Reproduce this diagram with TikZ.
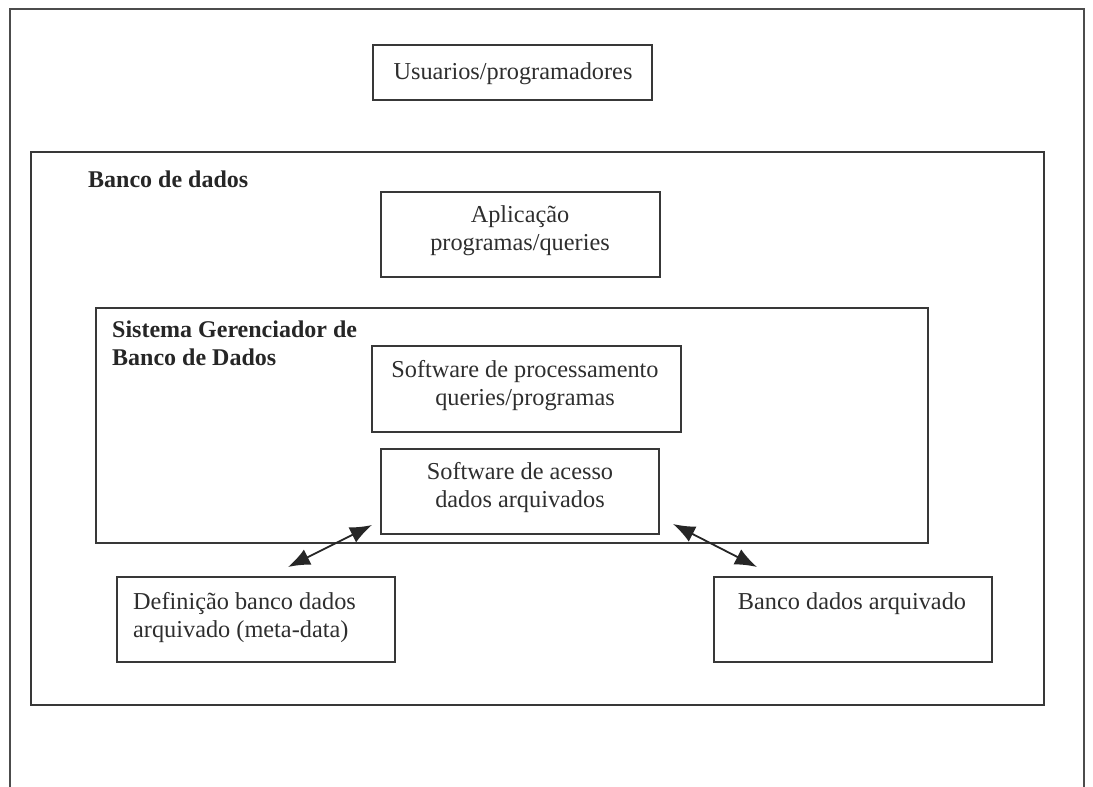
\documentclass[tikz,border=0pt]{standalone}
\usepackage{fontspec}
\setmainfont{Liberation Serif}
\usetikzlibrary{fit,arrows.meta}
\begin{document}
\begin{tikzpicture}[x=1pt,y=-1pt,
  box/.style={draw=black!78, line width=1.8pt, inner sep=0pt, rectangle},
  frame/.style={draw=black!70, line width=1.8pt},
  txt/.style={text=black!82, font=\fontsize{24.3}{28}\selectfont, align=center, inner sep=0pt},
  bold/.style={text=black!85, font=\fontsize{24}{28}\selectfont\bfseries, align=left, inner sep=0pt, anchor=west},
  dbl/.style={draw=black!85, line width=1.8pt, {Latex[length=22pt,width=17pt]}-{Latex[length=22pt,width=17pt]}}]
\useasboundingbox (0,0) rectangle (1093,787);
% outer open frame
\coordinate (fbl) at (10,790);
\coordinate (ftl) at (10,9);
\coordinate (ftr) at (1084,9);
\coordinate (fbr) at (1084,790);
\draw[frame] (fbl) -- (ftl) -- (ftr) -- (fbr);
% boxes
\node[box, fit={(373,45)(652,100)}] (usu) {};
\node[box, fit={(31,152)(1044,705)}] (bd) {};
\node[box, fit={(381,192)(660,277)}] (apl) {};
\node[box, fit={(96,308)(928,543)}] (sgbd) {};
\node[box, fit={(372,346)(681,432)}] (proc) {};
\node[box, fit={(381,449)(659,534)}] (aces) {};
\node[box, fit={(117,577)(395,662)}] (defi) {};
\node[box, fit={(714,577)(992,662)}] (arq) {};
% texts
\node[txt] (tusu) at (513,74) {Usuarios/programadores};
\node[bold] (tbd) at (88,179) {Banco de dados};
\node[txt] (tapl) at (520,231) {Aplicação\\programas/queries};
\node[bold] (tsgbd) at (112,343) {Sistema Gerenciador de\\Banco de Dados};
\node[txt] (tproc) at (525,386) {Software de processamento\\queries/programas};
\node[txt] (taces) at (520,488) {Software de acesso\\dados arquivados};
\node[txt, align=left, anchor=west] (tdefi) at (133,618) {Definição banco dados\\arquivado (meta-data)};
\node[txt] (tarq) at (852,604) {Banco dados arquivado};
% arrows
\coordinate (l1) at (372,525);
\coordinate (l2) at (288,567);
\coordinate (r1) at (673,524);
\coordinate (r2) at (757,567);
\draw[dbl] (l1) -- (l2);
\draw[dbl] (r1) -- (r2);
\end{tikzpicture}
\end{document}
